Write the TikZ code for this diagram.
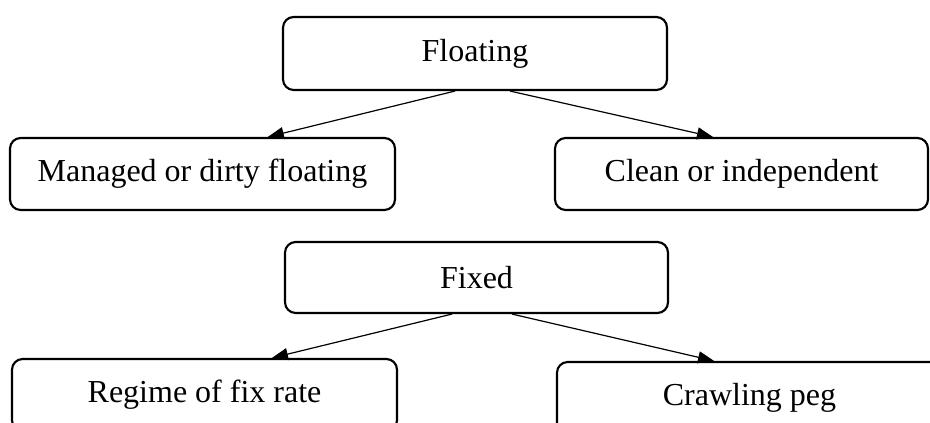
\documentclass[tikz,border=0pt]{standalone}
\usepackage{fontspec}
\setmainfont{Liberation Serif}
\usetikzlibrary{arrows.meta}
\begin{document}
\begin{tikzpicture}[x=0.75pt,y=-0.75pt,
  box/.style={draw=black, line width=1.6pt, rounded corners=8pt, fill=white,
    inner sep=0pt, font=\fontsize{24pt}{28pt}\selectfont, text=black},
  link/.style={draw=black, line width=0.9pt, -{Triangle[length=12pt,width=9pt]}}]
\clip (0,0) rectangle (930,423);
\fill[white] (0,0) rectangle (930,423);
\node[box, minimum width=288pt, minimum height=54.75pt] (floating) at (475,53.5) {Floating};
\node[box, minimum width=288.75pt, minimum height=54pt] (managed) at (202.5,174) {Managed or dirty floating};
\node[box, minimum width=279.75pt, minimum height=54pt] (clean) at (741.5,174) {Clean or independent};
\node[box, minimum width=287.25pt, minimum height=53.25pt] (fixed) at (476.5,277.5) {Fixed};
\node[box, minimum width=288.75pt, minimum height=54pt] (regime) at (204.5,395) {Regime of fix rate};
\node[box, minimum width=288.75pt, minimum height=54pt] (crawling) at (749.5,398) {Crawling peg};
\draw[link] ([xshift=-15pt]floating.south) -- ([xshift=49pt]managed.north);
\draw[link] ([xshift=26.25pt]floating.south) -- ([xshift=-21.4pt]clean.north);
\draw[link] ([xshift=-18.4pt]fixed.south) -- ([xshift=50.6pt]regime.north);
\draw[link] ([xshift=26.6pt]fixed.south) -- ([xshift=-26.6pt]crawling.north);
\end{tikzpicture}
\end{document}
